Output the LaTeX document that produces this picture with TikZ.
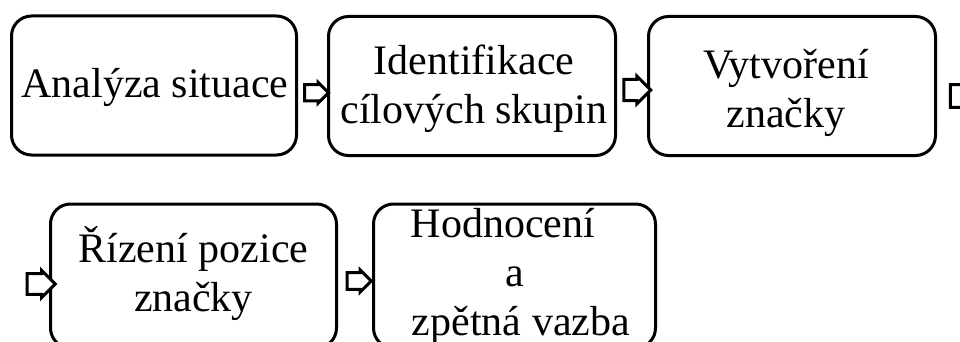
\documentclass[tikz,border=0pt]{standalone}
\usepackage{fontspec}
\setmainfont{Liberation Serif}
\usetikzlibrary{calc,shapes.arrows}

\tikzset{
  stagebox/.style={draw=black, line width=3pt, rounded corners=20pt, fill=white,
    minimum height=139pt, inner sep=0pt},
  stagetext/.style={align=center, inner sep=0pt,
    font=\fontsize{42}{49}\selectfont},
  flowarrow/.style={single arrow, draw=black, fill=white, line width=3pt,
    inner xsep=0pt, inner ysep=5pt, single arrow head extend=2pt},
}

\begin{document}
\begin{tikzpicture}[x=1pt,y=-1pt]
  \useasboundingbox (0,0) rectangle (960,342);

  % process stages, first row
  \node[stagebox, minimum width=285pt] (b1) at (154,85.5) {};
  \node[stagebox, minimum width=287pt] (b2) at (472,86) {};
  \node[stagebox, minimum width=287pt] (b3) at (792,86) {};
  % second row, running past the lower edge
  \node[stagebox, minimum width=286pt, minimum height=144pt] (b4) at (193.5,276) {};
  \node[stagebox, minimum width=282pt, minimum height=144pt] (b5) at (514.5,276) {};

  % stage labels
  \node[stagetext] (t1) at ($(b1.center)+(1,2)$) {Analýza situace};
  \node[stagetext] (t2) at ($(b2.center)+(2,2.5)$) {Identifikace\\cílových skupin};
  \node[stagetext] (t3) at ($(b3.center)+(-6,6.5)$) {Vytvoření\\značky};
  \node[stagetext] (t4) at ($(b4.center)+(0,-3)$) {Řízení pozice\\značky};
  \node[stagetext] (t5) at ($(b5.center)+(0,0.5)$)
    {Hodnocení\hspace*{23pt}\\a\hspace*{17pt}\\\hspace*{13pt}zpětná vazba};

  % block arrows between the stages
  \node[flowarrow, minimum width=21pt, minimum height=24pt] (a12)
    at ($(b1.east)!0.5!(b2.west)+(0,7)$) {};
  \node[flowarrow, minimum width=28pt, minimum height=27pt] (a23)
    at ($(b2.east)!0.5!(b3.west)+(0,4)$) {};
  \node[flowarrow, minimum width=30pt, minimum height=27pt] (a3out)
    at ($(b3.east)+(21,10)$) {};
  \node[flowarrow, minimum width=27pt, minimum height=28pt] (a4in)
    at ($(b4.west)+(-13,8)$) {};
  \node[flowarrow, minimum width=22pt, minimum height=24pt] (a45)
    at ($(b4.east)!0.5!(b5.west)+(0,5)$) {};
\end{tikzpicture}
\end{document}
